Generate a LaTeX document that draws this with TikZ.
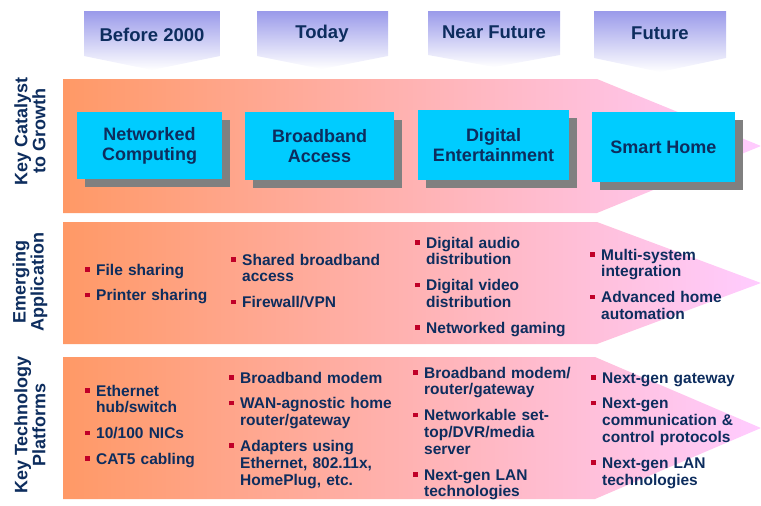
\documentclass[tikz,border=0pt]{standalone}
\usepackage{fontspec}
\setmainfont{Liberation Sans}
\usepackage{tikz}
\usetikzlibrary{shadows}

\definecolor{navy}{HTML}{0D2D5E}
\definecolor{bulred}{HTML}{C00028}
\definecolor{cyanbox}{HTML}{00CCFF}
\definecolor{shadowgray}{HTML}{808080}
\definecolor{hdtop}{HTML}{9A9AEA}
\definecolor{bandl}{HTML}{FF9966}
\definecolor{bandr}{HTML}{FFCCFF}

\newcommand{\bitem}[1]{\par\hangindent=11pt\hangafter=1\noindent\makebox[11pt][l]{\textcolor{bulred}{\rule[3.5pt]{4.5pt}{4.5pt}}}#1\par}
\newcommand{\bgap}{\vspace{9pt}}

\begin{document}
\begin{tikzpicture}[x=1pt,y=-1pt,
    hdr/.style={anchor=base,text=navy,font=\fontsize{18.5}{20}\selectfont\bfseries},
    side/.style={rotate=90,align=center,text=navy,font=\fontsize{18}{18}\selectfont\bfseries},
    cat/.style={fill=cyanbox,align=center,text=navy,inner sep=0pt,
        font=\fontsize{18}{20}\selectfont\bfseries,
        drop shadow={shadow xshift=8pt,shadow yshift=-8pt,fill=shadowgray,opacity=1}},
    col/.style={anchor=north west,inner sep=0pt,align=left,text width=175pt,text=navy,
        font=\fontsize{15.5}{16.8}\selectfont\bfseries}]
    \useasboundingbox (0,0) rectangle (761,506);

% time headers
    \shade[top color=hdtop,bottom color=white] (84,11) -- (220,11) -- (220,56) -- (152,70) -- (84,56) -- cycle;
    \shade[top color=hdtop,bottom color=white] (257,11) -- (388,11) -- (388,56) -- (322,69) -- (257,56) -- cycle;
    \shade[top color=hdtop,bottom color=white] (428,11) -- (560,11) -- (560,55) -- (494,67) -- (428,55) -- cycle;
    \shade[top color=hdtop,bottom color=white] (594,11) -- (726,11) -- (726,58) -- (660,72) -- (594,58) -- cycle;
    \node[hdr] (hdBefore) at (152,41) {Before 2000};
    \node[hdr] (hdToday) at (322,38) {Today};
    \node[hdr] (hdNear) at (494,38) {Near Future};
    \node[hdr] (hdFuture) at (660,39) {Future};

% bands
    \shade[left color=bandl,right color=bandr] (63,79) -- (597,79) -- (761,146) -- (597,213) -- (63,213) -- cycle;
    \shade[left color=bandl,right color=bandr] (63,222) -- (597,222) -- (761,283) -- (597,344) -- (63,344) -- cycle;
    \shade[left color=bandl,right color=bandr] (63,357) -- (595,357) -- (761,428) -- (595,499) -- (63,499) -- cycle;

% row labels
    \node[side] (lbCatalyst) at (30,131) {Key Catalyst\\to Growth};
    \node[side] (lbEmerging) at (30,282) {Emerging\\Application};
    \node[side] (lbTech) at (30,425) {Key Technology\\Platforms};

% catalysts
    \node[cat,minimum width=145pt,minimum height=67pt] (ctNet) at (149.5,145.5) {Networked\\Computing};
    \node[cat,minimum width=149pt,minimum height=68pt] (ctBroad) at (319.5,146) {Broadband\\Access};
    \node[cat,minimum width=151pt,minimum height=70pt] (ctDigital) at (493.5,145) {Digital\\Entertainment};
    \node[cat,minimum width=143pt,minimum height=70pt] (ctSmart) at (663.5,147) {Smart Home};

% emerging applications
    \node[col] (apBefore) at (85,258) {\bitem{File sharing}\bgap\bitem{Printer sharing}};
    \node[col] (apToday) at (231,248) {\bitem{Shared broadband\newline access}\bgap\bitem{Firewall/VPN}};
    \node[col] (apNear) at (415,231) {\bitem{Digital audio\newline distribution}\bgap
        \bitem{Digital video\newline distribution}\bgap\bitem{Networked gaming}};
    \node[col] (apFuture) at (590,243) {\bitem{Multi-system\newline integration}\bgap
        \bitem{Advanced home\newline automation}};

% technology platforms
    \node[col] (tpBefore) at (85,379) {\bitem{Ethernet\newline hub/switch}\bgap
        \bitem{10/100 NICs}\bgap\bitem{CAT5 cabling}};
    \node[col] (tpToday) at (229,366) {\bitem{Broadband modem}\bgap
        \bitem{WAN-agnostic home\newline router/gateway}\bgap
        \bitem{Adapters using\newline Ethernet, 802.11x,\newline HomePlug, etc.}};
    \node[col] (tpNear) at (413,361) {\bitem{Broadband modem/\newline router/gateway}\bgap
        \bitem{Networkable set-\newline top/DVR/media\newline server}\bgap
        \bitem{Next-gen LAN\newline technologies}};
    \node[col] (tpFuture) at (591,366) {\bitem{Next-gen gateway}\bgap
        \bitem{Next-gen\newline communication \&\newline control protocols}\bgap
        \bitem{Next-gen LAN\newline technologies}};
\end{tikzpicture}
\end{document}
